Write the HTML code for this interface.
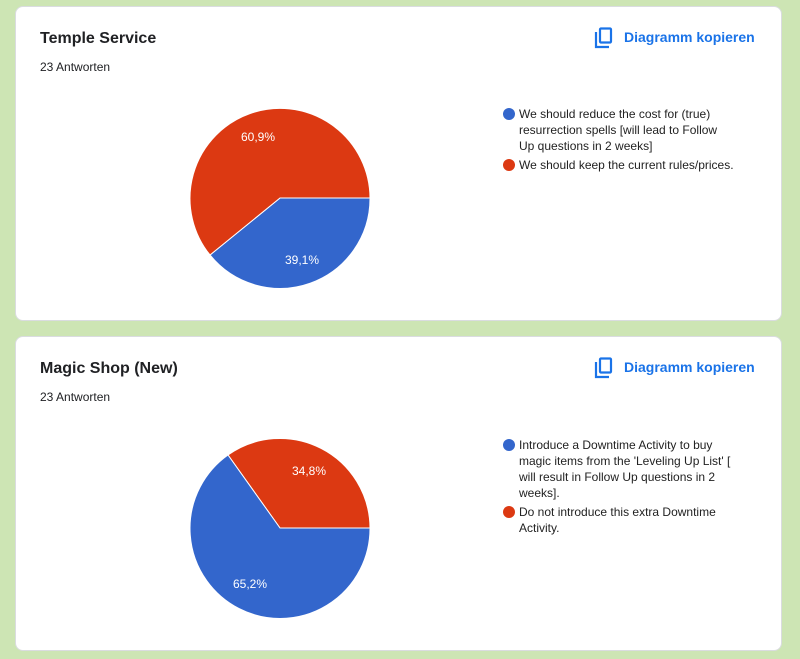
<!DOCTYPE html>
<html><head><style>
body{margin:0;width:800px;height:659px;background:#cde5b4;font-family:"Liberation Sans",Arial,sans-serif;position:relative;overflow:hidden}
.card{position:absolute;left:15px;width:767px;height:315px;background:#fff;border:1px solid #dadce0;border-radius:8px;box-sizing:border-box}
.t{position:absolute;left:24px;top:23px;font-size:16px;font-weight:bold;color:#202124}
.s{position:absolute;left:24px;top:53px;font-size:12px;color:#202124}
.cp{position:absolute;left:578px;top:18px;color:#1a73e8;font-size:14px;font-weight:bold}
.cp svg{position:absolute;left:0;top:2px}
.cp span{position:absolute;left:30px;top:4px;white-space:nowrap}
.lg{position:absolute;left:487px;width:260px;font-size:12px;line-height:16px;color:#222;white-space:nowrap}
.lg div{position:relative;padding-left:16px;margin-bottom:3px}
.lg i{position:absolute;left:0;top:2px;width:12px;height:12px;border-radius:50%}
</style></head><body>
<div class="card" style="top:6px">
<div class="t">Temple Service</div><div class="s">23 Antworten</div>
<div class="cp"><svg width="20" height="22" viewBox="0 0 20 22"><path d="M2 5v15h13" fill="none" stroke="#1a73e8" stroke-width="2.2"/><rect x="6" y="1.5" width="11" height="14" rx="1" fill="none" stroke="#1a73e8" stroke-width="2.2"/></svg><span>Diagramm kopieren</span></div>
<div class="lg" style="top:99px"><div><i style="background:#3366cc"></i>We should reduce the cost for (true)<br>resurrection spells [will lead to Follow<br>Up questions in 2 weeks]</div><div><i style="background:#dc3912"></i>We should keep the current rules/prices.</div></div>
</div>
<div class="card" style="top:336px">
<div class="t">Magic Shop (New)</div><div class="s">23 Antworten</div>
<div class="cp"><svg width="20" height="22" viewBox="0 0 20 22"><path d="M2 5v15h13" fill="none" stroke="#1a73e8" stroke-width="2.2"/><rect x="6" y="1.5" width="11" height="14" rx="1" fill="none" stroke="#1a73e8" stroke-width="2.2"/></svg><span>Diagramm kopieren</span></div>
<div class="lg" style="top:100px"><div><i style="background:#3366cc"></i>Introduce a Downtime Activity to buy<br>magic items from the 'Leveling Up List' [<br>will result in Follow Up questions in 2<br>weeks].</div><div><i style="background:#dc3912"></i>Do not introduce this extra Downtime<br>Activity.</div></div>
</div>
<svg style="position:absolute;left:0;top:0" width="800" height="659" font-family="Liberation Sans, Arial, sans-serif" font-size="12" fill="#fff">
<path d="M280,198 L370,198 A90 90 0 0 1 210,255 Z" fill="#3366cc" stroke="#fff" stroke-width="1"/>
<path d="M280,198 L210,255 A90 90 0 1 1 370,198 Z" fill="#dc3912" stroke="#fff" stroke-width="1"/>
<text x="258" y="141" text-anchor="middle">60,9%</text>
<text x="302" y="264" text-anchor="middle">39,1%</text>
<path d="M280,528 L370,528 A90 90 0 0 0 228,455 Z" fill="#dc3912" stroke="#fff" stroke-width="1"/>
<path d="M280,528 L228,455 A90 90 0 1 0 370,528 Z" fill="#3366cc" stroke="#fff" stroke-width="1"/>
<text x="309" y="475" text-anchor="middle">34,8%</text>
<text x="250" y="588" text-anchor="middle">65,2%</text>
</svg>
</body></html>
